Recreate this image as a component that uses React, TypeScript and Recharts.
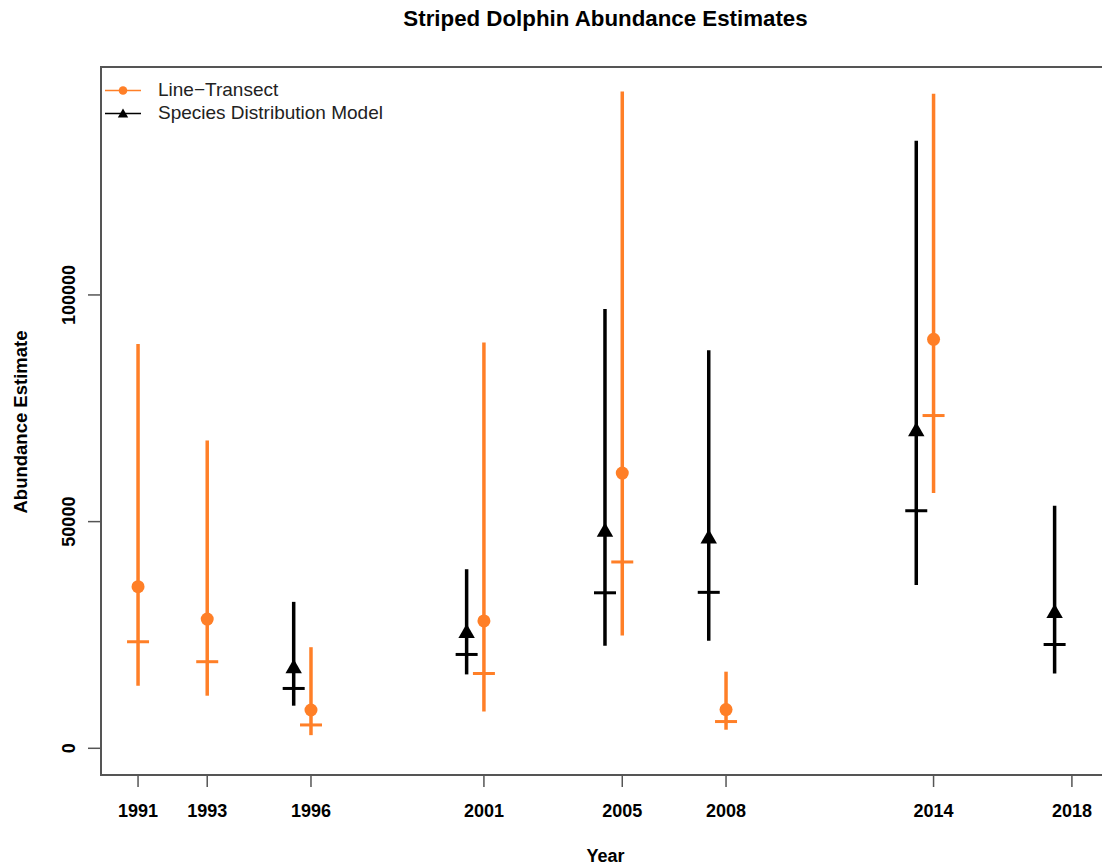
import React from 'react';
import { ComposedChart, Scatter, XAxis, YAxis, ErrorBar, Legend } from 'recharts';

// survey years on the x axis
const years = [1991, 1993, 1996, 2001, 2005, 2008, 2014, 2018];

// line-transect estimates (null = no survey)
const ltMean = [35650, 28500, 8450, 28100, 60700, 8550, 90200, null];
const ltMedian = [23500, 19100, 5150, 16500, 41100, 5900, 73400, null];
const ltLower = [13800, 11600, 2900, 8100, 24900, 4100, 56300, null];
const ltUpper = [89200, 67900, 22300, 89500, 144900, 16900, 144400, null];

// species distribution model estimates
const sdmMean = [null, null, 17600, 25400, 47700, 46200, 69900, 29800];
const sdmMedian = [null, null, 13200, 20700, 34300, 34400, 52400, 22900];
const sdmLower = [null, null, 9400, 16300, 22600, 23700, 36000, 16500];
const sdmUpper = [null, null, 32300, 39500, 96900, 87800, 134000, 53500];

const yTicks = [0, 50000, 100000];
const legendLabels = ['Line\u2212Transect', 'Species Distribution Model'];

const ORANGE = '#FF7F27';
const BLACK = '#000000';
const AXIS = '#555555';
const FONT = '"Liberation Sans", Arial, Helvetica, sans-serif';
const SDM_SHIFT = -0.5; // SDM drawn half a year left of the survey year

type Row = { x: number; y: number; err: [number, number] };

function buildRows(mean: (number | null)[], lo: (number | null)[], hi: (number | null)[], shift: number): Row[] {
	const out: Row[] = [];
	years.forEach((yr, i) => {
		const m = mean[i];
		if (m == null) return;
		out.push({ x: yr + shift, y: m, err: [m - (lo[i] as number), (hi[i] as number) - m] });
	});
	return out;
}

function buildMedians(med: (number | null)[], shift: number) {
	const out: { x: number; y: number }[] = [];
	years.forEach((yr, i) => {
		const v = med[i];
		if (v != null) out.push({ x: yr + shift, y: v });
	});
	return out;
}

const ltRows = buildRows(ltMean, ltLower, ltUpper, 0);
const sdmRows = buildRows(sdmMean, sdmLower, sdmUpper, SDM_SHIFT);
const ltMedRows = buildMedians(ltMedian, 0);
const sdmMedRows = buildMedians(sdmMedian, SDM_SHIFT);

const Empty = () => <g />;

const dash = (color: string) => (p: any) => (
	<line x1={p.cx - 11} x2={p.cx + 11} y1={p.cy} y2={p.cy} stroke={color} strokeWidth={3} />
);

const Dot = (p: any) => <circle cx={p.cx} cy={p.cy} r={6.5} fill={ORANGE} />;

const triPoints = (cx: number, cy: number, r: number) => {
	const xc = r * 0.866;
	return `${cx},${cy - r} ${cx + xc},${cy + r / 2} ${cx - xc},${cy + r / 2}`;
};

const Tri = (p: any) => <polygon points={triPoints(p.cx, p.cy, 9.5)} fill={BLACK} />;

const YTick = (p: any) => (
	<text
		x={p.x}
		y={p.y}
		transform={`rotate(-90, ${p.x}, ${p.y})`}
		textAnchor='middle'
		dominantBaseline='central'
		fontFamily={FONT}
		fontWeight='bold'
		fontSize={18}
		fill='#000'
	>
		{p.payload.value}
	</text>
);

const renderLegend = () => (
	<div style={{ fontFamily: FONT, fontSize: 19, color: '#222' }}>
		{legendLabels.map((label, i) => (
			<div key={label} style={{ display: 'flex', alignItems: 'center', height: 23 }}>
				<svg width={53} height={23}>
					<line x1={0} x2={36} y1={11.5} y2={11.5} stroke={i === 0 ? ORANGE : BLACK} strokeWidth={1.3} />
					{i === 0 ? (
						<circle cx={18} cy={11.5} r={4.3} fill={ORANGE} />
					) : (
						<polygon points={triPoints(18, 12.5, 6)} fill={BLACK} />
					)}
				</svg>
				<span>{label}</span>
			</div>
		))}
	</div>
);

export default function App() {
	return (
		<div style={{ position: 'fixed', left: 0, top: 0, width: 1102, height: 865, overflow: 'hidden', background: '#fff' }}>
			<div
				style={{
					position: 'absolute', left: 100, width: 1011, top: 0, height: 38, lineHeight: '38px',
					textAlign: 'center', fontFamily: FONT, fontWeight: 'bold', fontSize: 22.3, color: '#000',
				}}
			>
				Striped Dolphin Abundance Estimates
			</div>
			<div
				style={{
					position: 'absolute', left: 100, width: 1011, top: 846, height: 20, lineHeight: '20px',
					textAlign: 'center', fontFamily: FONT, fontWeight: 'bold', fontSize: 18, color: '#000',
				}}
			>
				Year
			</div>
			<div
				style={{
					position: 'absolute', left: 21 - 150, width: 300, top: 422 - 10, height: 20, lineHeight: '20px',
					textAlign: 'center', fontFamily: FONT, fontWeight: 'bold', fontSize: 18.5, color: '#000',
					transform: 'rotate(-90deg)',
				}}
			>
				Abundance Estimate
			</div>
			<ComposedChart width={1102} height={865} margin={{ top: 66, right: 0, bottom: 0, left: 0 }}>
				<XAxis
					dataKey='x'
					type='number'
					domain={[1989.9, 2018.87]}
					allowDataOverflow
					ticks={years}
					interval={0}
					height={90}
					axisLine={false}
					tickSize={12}
					tickMargin={17}
					tickLine={{ stroke: AXIS, strokeWidth: 1.5 }}
					tick={{ fontFamily: FONT, fontWeight: 'bold', fontSize: 18, fill: '#000' }}
				/>
				<YAxis
					dataKey='y'
					type='number'
					domain={[-5890, 150500]}
					allowDataOverflow
					ticks={yTicks}
					interval={0}
					width={100}
					axisLine={false}
					tickSize={12}
					tickMargin={19}
					tickLine={{ stroke: AXIS, strokeWidth: 1.5 }}
					tick={<YTick />}
				/>
				<Legend
					layout='vertical'
					align='center'
					verticalAlign='middle'
					content={renderLegend}
					wrapperStyle={{ left: 105, top: 78.5, width: 320 }}
				/>
				<Scatter data={sdmRows} shape={<Empty />} isAnimationActive={false} legendType='none'>
					<ErrorBar dataKey='err' direction='y' width={0} stroke={BLACK} strokeWidth={3.5} isAnimationActive={false} />
				</Scatter>
				<Scatter data={ltRows} shape={<Empty />} isAnimationActive={false} legendType='none'>
					<ErrorBar dataKey='err' direction='y' width={0} stroke={ORANGE} strokeWidth={3.5} isAnimationActive={false} />
				</Scatter>
				<Scatter data={sdmMedRows} shape={dash(BLACK)} isAnimationActive={false} legendType='none' />
				<Scatter data={ltMedRows} shape={dash(ORANGE)} isAnimationActive={false} legendType='none' />
				<Scatter data={sdmRows} shape={Tri} isAnimationActive={false} />
				<Scatter data={ltRows} shape={Dot} isAnimationActive={false} />
			</ComposedChart>
			<div
				style={{
					position: 'absolute', left: 100, top: 66, width: 1010, height: 710,
					boxSizing: 'border-box', border: `2px solid ${AXIS}`, pointerEvents: 'none',
				}}
			/>
		</div>
	);
}
